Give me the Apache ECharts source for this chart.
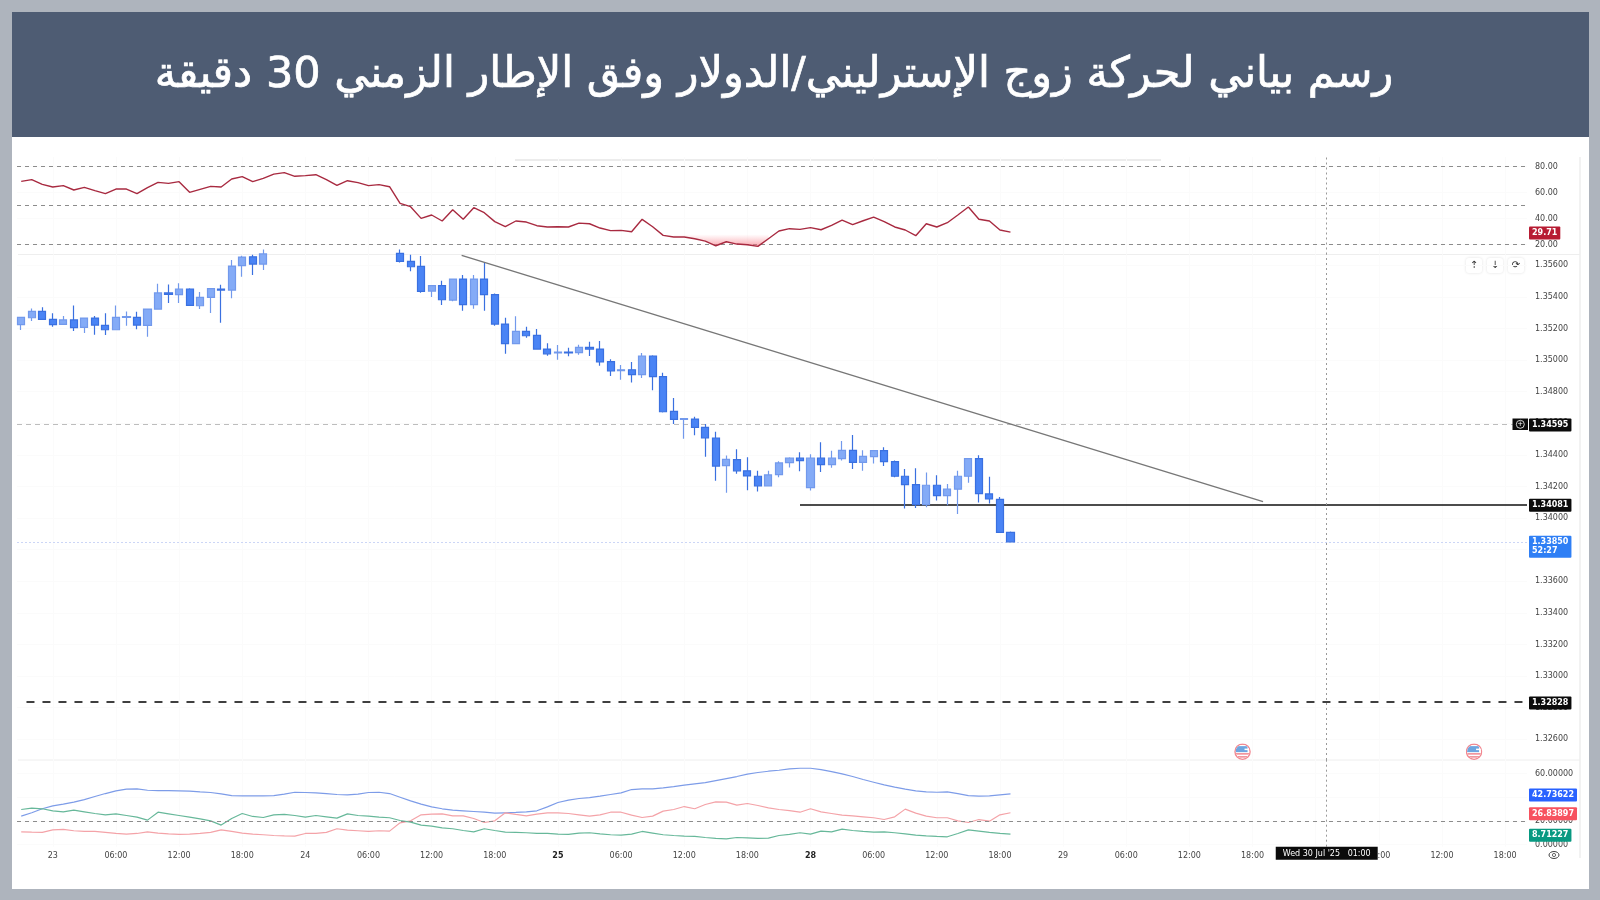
<!DOCTYPE html>
<html>
<head>
<meta charset="utf-8">
<title>GBP/USD</title>
<script src="https://cdn.jsdelivr.net/npm/echarts@6/dist/echarts.min.js"></script>
<style>
  html, body { margin: 0; padding: 0; background: #aeb4bd; }
  #chart { width: 1600px; height: 900px; }
</style>
</head>
<body>
<div id="chart"></div>
<script>
const titleText = 'رسم بياني لحركة زوج الإسترليني/الدولار وفق الإطار الزمني 30 دقيقة';

// hourly candles, bars 24-35 sit above the visible price range so they stay null
const opens = [
  1.35224, 1.35268, 1.35308, 1.35258, 1.35226, 1.35254, 1.35207, 1.35266, 1.35220, 1.35192,
  1.35270, 1.35270, 1.35220, 1.35323, 1.35425, 1.35414, 1.35450, 1.35344, 1.35397, 1.35450,
  1.35443, 1.35598, 1.35654, 1.35608, null, null, null, null, null, null,
  null, null, null, null, null, null, 1.35675, 1.35625, 1.35593, 1.35437,
  1.35471, 1.35380, 1.35513, 1.35351, 1.35513, 1.35414, 1.35228, 1.35104, 1.35182, 1.35157,
  1.35070, 1.35045, 1.35051, 1.35047, 1.35081, 1.35070, 1.34990, 1.34933, 1.34939, 1.34908,
  1.35026, 1.34895, 1.34675, 1.34625, 1.34627, 1.34574, 1.34507, 1.34332, 1.34370, 1.34299,
  1.34265, 1.34204, 1.34275, 1.34351, 1.34379, 1.34193, 1.34379, 1.34339, 1.34377, 1.34429,
  1.34353, 1.34389, 1.34427, 1.34358, 1.34265, 1.34212, 1.34085, 1.34208, 1.34142, 1.34183,
  1.34265, 1.34377, 1.34153, 1.34119, 1.33910
];
const closes = [
  1.35270, 1.35308, 1.35258, 1.35224, 1.35254, 1.35205, 1.35266, 1.35222, 1.35192, 1.35270,
  1.35275, 1.35222, 1.35323, 1.35425, 1.35416, 1.35450, 1.35346, 1.35397, 1.35452, 1.35443,
  1.35595, 1.35652, 1.35608, 1.35672, null, null, null, null, null, null,
  null, null, null, null, null, null, 1.35625, 1.35591, 1.35435, 1.35471,
  1.35382, 1.35513, 1.35351, 1.35513, 1.35414, 1.35228, 1.35104, 1.35182, 1.35154, 1.35070,
  1.35040, 1.35051, 1.35045, 1.35081, 1.35070, 1.34988, 1.34931, 1.34939, 1.34908, 1.35026,
  1.34895, 1.34673, 1.34625, 1.34629, 1.34574, 1.34507, 1.34329, 1.34372, 1.34299, 1.34267,
  1.34204, 1.34273, 1.34349, 1.34379, 1.34364, 1.34379, 1.34339, 1.34379, 1.34429, 1.34353,
  1.34391, 1.34427, 1.34358, 1.34265, 1.34212, 1.34085, 1.34208, 1.34142, 1.34183, 1.34265,
  1.34377, 1.34155, 1.34121, 1.33910, 1.33850
];
const lows = [
  1.35190, 1.35247, 1.35256, 1.35211, 1.35224, 1.35184, 1.35171, 1.35161, 1.35159, 1.35190,
  1.35218, 1.35195, 1.35148, 1.35321, 1.35361, 1.35361, 1.35344, 1.35323, 1.35298, 1.35237,
  1.35391, 1.35528, 1.35538, 1.35570, null, null, null, null, null, null,
  null, null, null, null, null, null, 1.35617, 1.35562, 1.35427, 1.35399,
  1.35349, 1.35372, 1.35313, 1.35325, 1.35313, 1.35218, 1.35040, 1.35102, 1.35142, 1.35068,
  1.35028, 1.35003, 1.35024, 1.35034, 1.35026, 1.34965, 1.34899, 1.34876, 1.34859, 1.34886,
  1.34810, 1.34669, 1.34595, 1.34502, 1.34524, 1.34388, 1.34237, 1.34161, 1.34280, 1.34176,
  1.34168, 1.34202, 1.34258, 1.34320, 1.34296, 1.34174, 1.34292, 1.34318, 1.34364, 1.34311,
  1.34299, 1.34345, 1.34330, 1.34258, 1.34060, 1.34064, 1.34069, 1.34111, 1.34081, 1.34026,
  1.34223, 1.34098, 1.34092, 1.33908, 1.33849
];
const highs = [
  1.35275, 1.35327, 1.35334, 1.35296, 1.35279, 1.35346, 1.35268, 1.35279, 1.35296, 1.35346,
  1.35308, 1.35306, 1.35325, 1.35484, 1.35479, 1.35486, 1.35454, 1.35431, 1.35454, 1.35477,
  1.35633, 1.35661, 1.35667, 1.35700, null, null, null, null, null, null,
  null, null, null, null, null, null, 1.35700, 1.35667, 1.35659, 1.35473,
  1.35503, 1.35515, 1.35538, 1.35538, 1.35617, 1.35422, 1.35268, 1.35277, 1.35211, 1.35197,
  1.35106, 1.35095, 1.35078, 1.35097, 1.35116, 1.35121, 1.35005, 1.34969, 1.34988, 1.35045,
  1.35030, 1.34920, 1.34760, 1.34631, 1.34642, 1.34595, 1.34547, 1.34396, 1.34436, 1.34385,
  1.34299, 1.34299, 1.34360, 1.34385, 1.34417, 1.34404, 1.34480, 1.34427, 1.34488, 1.34526,
  1.34429, 1.34429, 1.34448, 1.34364, 1.34311, 1.34315, 1.34288, 1.34271, 1.34216, 1.34299,
  1.34381, 1.34398, 1.34261, 1.34134, 1.33915
];

const rsi = [
  68.6, 69.9, 66.3, 64.3, 65.3, 62.0, 64.0, 61.5, 59.2, 62.7,
  62.7, 59.2, 63.8, 67.8, 67.1, 68.4, 60.2, 62.5, 64.8, 64.3,
  70.4, 72.2, 68.4, 70.9, 74.2, 75.3, 72.5, 73.0, 73.7, 69.9,
  65.5, 69.1, 67.6, 65.3, 66.1, 64.5, 51.7, 49.2, 40.2, 42.8,
  38.2, 46.9, 39.5, 48.4, 44.6, 37.7, 33.8, 38.2, 37.4, 34.6,
  33.6, 33.8, 33.6, 36.6, 36.1, 32.8, 30.8, 31.0, 30.0, 39.5,
  33.8, 27.2, 25.9, 25.9, 24.6, 22.8, 19.2, 22.3, 20.5, 20.0,
  18.7, 24.6, 30.5, 32.3, 31.8, 33.1, 31.5, 34.9, 38.9, 35.4,
  38.4, 41.2, 37.7, 33.6, 31.3, 26.9, 36.1, 33.6, 36.9, 42.8,
  48.9, 39.5, 38.2, 31.3, 29.71
];
const adxBlue = [
  24.0, 26.8, 30.2, 32.7, 34.1, 35.8, 38.0, 40.6, 43.1, 45.4,
  46.8, 47.1, 45.9, 45.6, 45.6, 45.4, 45.1, 44.5, 44.0, 42.8,
  41.4, 41.1, 41.1, 41.1, 41.4, 42.6, 44.2, 44.0, 43.7, 43.1,
  42.3, 42.0, 42.6, 44.0, 44.2, 43.1, 40.0, 36.9, 34.1, 31.8,
  30.2, 29.0, 28.5, 27.9, 27.3, 26.5, 26.8, 27.1, 27.6, 28.5,
  31.8, 35.5, 37.5, 38.9, 39.7, 40.9, 42.3, 43.7, 46.5, 47.1,
  47.1, 47.9, 49.0, 50.2, 51.3, 52.4, 54.1, 55.8, 57.5, 59.5,
  60.9, 62.0, 62.8, 64.0, 64.5, 64.5, 63.4, 61.7, 59.7, 57.5,
  55.0, 52.7, 50.4, 48.5, 46.8, 45.4, 44.5, 44.2, 44.5, 43.1,
  41.4, 40.9, 41.1, 42.0, 42.74
];
const diRed = [
  10.7, 10.4, 10.2, 12.4, 12.7, 11.6, 11.0, 11.0, 10.2, 9.3,
  8.7, 9.3, 10.7, 9.6, 9.0, 8.5, 8.7, 9.3, 10.2, 12.4,
  11.0, 9.6, 8.7, 8.2, 7.6, 7.3, 7.1, 9.3, 9.3, 10.2,
  13.3, 12.1, 11.6, 11.0, 11.6, 11.3, 18.3, 20.0, 25.1, 25.6,
  25.9, 24.2, 24.2, 22.0, 18.6, 20.0, 26.8, 25.4, 24.2, 25.6,
  26.8, 26.8, 26.2, 25.1, 24.0, 25.1, 27.3, 27.3, 24.8, 22.8,
  24.0, 28.2, 29.6, 32.1, 30.2, 33.8, 36.1, 35.8, 33.3, 34.7,
  33.0, 31.0, 29.6, 28.7, 27.3, 30.2, 27.6, 26.2, 24.8, 24.2,
  23.4, 22.6, 21.1, 23.4, 29.9, 26.5, 24.0, 22.6, 22.6, 20.0,
  18.6, 21.1, 19.7, 25.1, 26.84
];
const diGreen = [
  29.6, 30.7, 30.2, 28.5, 27.6, 29.0, 27.6, 26.2, 25.1, 25.9,
  24.5, 23.1, 20.6, 27.3, 25.9, 24.5, 23.1, 21.7, 20.0, 16.4,
  22.0, 26.2, 23.7, 22.8, 25.1, 25.4, 24.5, 23.1, 24.5, 23.4,
  22.3, 25.9, 24.5, 24.0, 23.1, 22.6, 20.3, 18.9, 16.4, 15.5,
  14.1, 13.3, 11.8, 10.7, 13.3, 11.8, 10.4, 10.2, 9.9, 9.3,
  9.3, 8.7, 8.5, 9.6, 9.9, 9.0, 8.2, 7.9, 8.7, 11.0,
  9.6, 8.2, 7.6, 7.1, 6.8, 5.9, 5.1, 4.8, 5.9, 5.6,
  5.1, 5.4, 7.6, 8.5, 9.9, 8.7, 11.3, 10.7, 13.0, 11.8,
  11.0, 10.4, 10.7, 9.9, 9.0, 7.9, 7.3, 6.8, 6.5, 9.3,
  12.4, 11.3, 10.2, 9.3, 8.71
];

const xTickIndex = [3, 9, 15, 21, 27, 33, 39, 45, 51, 57, 63, 69, 75, 81, 87, 93, 99, 105, 111, 117, 123, 129, 135, 141];
const xTickLabels = ['23', '06:00', '12:00', '18:00', '24', '06:00', '12:00', '18:00', '25', '06:00', '12:00', '18:00',
  '28', '06:00', '12:00', '18:00', '29', '06:00', '12:00', '18:00', '30', '06:00', '12:00', '18:00'];
const boldDays = ['25', '28'];
const rsiTicks = [20, 40, 60, 80];
const priceTicks = [1.326, 1.328, 1.33, 1.332, 1.334, 1.336, 1.338, 1.34, 1.342, 1.344, 1.346, 1.348, 1.35, 1.352, 1.354, 1.356];
const oscTicks = [0, 20, 40, 60];

const eventIndex = [116.05, 138.05];
const eventPrice = [1.32522, 1.32522];
const crossIndex = 124.05;
const trendStart = [41.85, 1.35663];
const trendEnd = [118, 1.34104];

const X_MIN = -0.4, X_MAX = 143.08;
const FONT = 'DejaVu Sans';

const chart = echarts.init(document.getElementById('chart'));

const xAxisFor = function (gridIndex, withLabels) {
  return {
    type: 'value', gridIndex: gridIndex, min: X_MIN, max: X_MAX,
    axisLine: { show: false },
    axisTick: { show: false, customValues: xTickIndex },
    splitLine: { show: true, lineStyle: { color: '#fbfbfb', width: 1 } },
    axisLabel: {
      show: withLabels, customValues: xTickIndex, margin: 5, color: '#444', fontSize: 8, fontFamily: FONT,
      formatter: function (v) {
        const text = xTickLabels[xTickIndex.indexOf(v)];
        return boldDays.includes(text) ? '{d|' + text + '}' : text;
      },
      rich: { d: { fontWeight: 'bold', color: '#222', fontSize: 8, fontFamily: FONT } }
    }
  };
};

const yAxisFor = function (gridIndex, min, max, ticks, digits) {
  return {
    type: 'value', gridIndex: gridIndex, position: 'right', min: min, max: max, scale: true,
    axisLine: { show: false },
    axisTick: { show: false, customValues: ticks },
    splitLine: { show: true, lineStyle: { color: '#fbfbfb', width: 1 } },
    axisLabel: {
      customValues: ticks, margin: 8, color: '#444', fontSize: 8, fontFamily: FONT, padding: [3, 0, 0, 0],
      formatter: function (v) { return v.toFixed(digits); }
    }
  };
};

// horizontal line, from xFrom to the right edge of the pane
const hLine = function (value, style, xFrom) {
  return [
    { xAxis: xFrom === undefined ? X_MIN : xFrom, yAxis: value, lineStyle: style },
    { xAxis: X_MAX, yAxis: value }
  ];
};

// price tag right of the pane, hung on a line end
const tagLabel = function (text, bg, extra) {
  return Object.assign({
    show: true, position: 'end', distance: 2, formatter: text, backgroundColor: bg, color: '#fff', offset: [0, 1],
    fontFamily: FONT, fontSize: 8, fontWeight: 'bold', padding: [2, 3], lineHeight: 9, borderRadius: 1, opacity: 1
  }, extra || {});
};

const tagOnly = function (value, text, bg) {
  return [
    { xAxis: X_MAX - 1, yAxis: value, lineStyle: { color: 'rgba(0,0,0,0)' }, label: tagLabel(text, bg) },
    { xAxis: X_MAX, yAxis: value }
  ];
};

const markLines = function (data, z) {
  return { silent: true, symbol: 'none', animation: false, z: z, label: { show: false }, data: data };
};

const crossStyle = { color: '#999', type: [2, 3], width: 1 };
const greyDash = { color: '#8c8c8c', type: [4, 4], width: 1 };

const mainLine = hLine(1.34087, { color: '#111', type: 'solid', width: 1.6 }, 74);
mainLine[0].label = tagLabel('1.34081', '#0b0b0b');
const levelLine = hLine(1.32836, { color: '#111', type: [8, 8], width: 1.6 }, 0.5);
levelLine[0].label = tagLabel('1.32828', '#0b0b0b');
const swingLine = hLine(1.34595, { color: '#bdbdbd', type: [5, 4], width: 1 });
swingLine[0].label = tagLabel('1.34595', '#0b0b0b');
const lastLine = hLine(1.3385, { color: '#ccd6f6', type: [2, 2], width: 1 });
lastLine[0].label = tagLabel('1.33850\n52:27', '#2f7ff5', { offset: [0, 5] });

const candleData = opens
  .map(function (o, i) { return [i, o, closes[i], lows[i], highs[i]]; })
  .filter(function (d) { return d[1] !== null; });

const toXY = function (arr) { return arr.map(function (v, i) { return [i, v]; }); };

const oscLine = function (name, arr, color) {
  return {
    name: name, type: 'line', xAxisIndex: 2, yAxisIndex: 2, data: toXY(arr), showSymbol: false, silent: true,
    lineStyle: { color: color, width: 1.2 }, animation: false, z: 3
  };
};

const flagSvg = '<svg xmlns="http://www.w3.org/2000/svg" width="34" height="34" viewBox="0 0 34 34">'
  + '<clipPath id="c"><circle cx="17" cy="17" r="14"/></clipPath>'
  + '<circle cx="17" cy="17" r="15" fill="#fff" stroke="#ee6a75" stroke-width="3"/>'
  + '<g clip-path="url(#c)"><rect x="3" y="3" width="28" height="28" fill="#fff"/>'
  + '<rect x="3" y="20" width="28" height="3" fill="#ee6a75"/><rect x="3" y="26" width="28" height="3" fill="#ee6a75"/>'
  + '<rect x="3" y="6" width="24" height="12" fill="#4a90d9"/><rect x="21" y="11" width="10" height="3" fill="#fff"/></g></svg>';

const btn = function (cx, glyph) {
  return {
    type: 'group', silent: true, children: [
      { type: 'rect', shape: { x: cx - 8, y: 258, width: 16, height: 15, r: 3 },
        style: { fill: '#fff', shadowBlur: 3, shadowColor: 'rgba(0,0,0,0.12)' } },
      { type: 'text', style: { x: cx, y: 265.5, text: glyph, align: 'center', verticalAlign: 'middle', fill: '#333', font: '10px "DejaVu Sans"' } }
    ]
  };
};

chart.setOption({
  animation: false,
  backgroundColor: '#aeb4bd',
  title: {
    text: titleText, left: 769, top: 49, textAlign: 'center',
    textStyle: { color: '#fff', fontFamily: FONT, fontSize: 43, fontWeight: 'normal', textBorderColor: '#fff', textBorderWidth: 0.7 }
  },
  grid: [
    { left: 17, top: 157, width: 1510, height: 97.5 },
    { left: 17, top: 254.5, width: 1510, height: 505.5 },
    { left: 17, top: 760, width: 1510, height: 86.7 }
  ],
  xAxis: [xAxisFor(0, false), xAxisFor(1, false), xAxisFor(2, true)],
  yAxis: [
    yAxisFor(0, 12.5, 87.3, rsiTicks, 2),
    yAxisFor(1, 1.32469, 1.356684, priceTicks, 5),
    yAxisFor(2, -1.9, 71.5, oscTicks, 5)
  ],
  graphic: {
    elements: [
      { type: 'rect', z: -10, silent: true, shape: { x: 12, y: 137, width: 1577, height: 752 }, style: { fill: '#fff' } },
      { type: 'rect', z: -9, silent: true, shape: { x: 12, y: 12, width: 1577, height: 125 }, style: { fill: '#4e5c73' } },
      // pane dividers and the right edge of the chart widget
      { type: 'line', z: -8, silent: true, shape: { x1: 18, y1: 254.5, x2: 1580, y2: 254.5 }, style: { stroke: '#eeeeee', lineWidth: 1 } },
      { type: 'line', z: -8, silent: true, shape: { x1: 18, y1: 760, x2: 1580, y2: 760 }, style: { stroke: '#eeeeee', lineWidth: 1 } },
      { type: 'line', z: -8, silent: true, shape: { x1: 1580, y1: 157, x2: 1580, y2: 858 }, style: { stroke: '#eeeeee', lineWidth: 1.5 } },
      { type: 'line', z: -8, silent: true, shape: { x1: 515, y1: 160, x2: 1161, y2: 160 }, style: { stroke: '#e6e6e6', lineWidth: 1.5 } },
      btn(1474, '↑'), btn(1495, '↓'), btn(1516, '⟳'),
      // plus icon next to the 1.34595 tag
      { type: 'rect', z: 20, silent: true, shape: { x: 1512.5, y: 418.5, width: 15.5, height: 11.5 }, style: { fill: '#0b0b0b' } },
      { type: 'circle', z: 21, silent: true, shape: { cx: 1520.3, cy: 424.3, r: 4 }, style: { fill: 'none', stroke: '#fff', lineWidth: 0.8 } },
      { type: 'text', z: 21, silent: true, style: { x: 1520.3, y: 424.3, text: '+', align: 'center', verticalAlign: 'middle', fill: '#fff', font: '7px "DejaVu Sans"' } },
      // eye icon in the corner of the time axis
      { type: 'ellipse', silent: true, shape: { cx: 1554, cy: 855, rx: 5, ry: 3.5 }, style: { fill: 'none', stroke: '#444', lineWidth: 1 } },
      { type: 'circle', silent: true, shape: { cx: 1554, cy: 855, r: 1.6 }, style: { fill: 'none', stroke: '#444', lineWidth: 0.8 } }
    ]
  },
  series: [
    {
      name: 'RSI', type: 'line', xAxisIndex: 0, yAxisIndex: 0, data: toXY(rsi), showSymbol: false, silent: true,
      lineStyle: { color: '#a82a40', width: 1.4 }, z: 3,
      markLine: markLines([
        hLine(80, greyDash), hLine(50, greyDash), hLine(20, greyDash),
        tagOnly(29.71, '29.71', '#b71c33'),
        [{ xAxis: crossIndex, yAxis: 12.5, lineStyle: crossStyle }, { xAxis: crossIndex, yAxis: 87.3 }]
      ], 1)
    },
    {
      // oversold shading between the RSI line and a fixed level
      name: 'RSI oversold', type: 'line', xAxisIndex: 0, yAxisIndex: 0, silent: true, showSymbol: false,
      data: toXY(rsi).slice(62, 72), lineStyle: { opacity: 0 }, z: 2,
      areaStyle: {
        origin: 28, opacity: 1,
        color: { type: 'linear', x: 0, y: 0, x2: 0, y2: 1, colorStops: [
          { offset: 0, color: 'rgba(250,130,140,0)' }, { offset: 1, color: 'rgba(245,105,120,0.6)' }
        ] }
      }
    },
    {
      name: 'GBPUSD', type: 'candlestick', xAxisIndex: 1, yAxisIndex: 1, data: candleData, silent: true,
      encode: { x: 0, y: [1, 2, 3, 4] }, barWidth: 7.6, z: 3, clip: true,
      itemStyle: { color: '#84abf7', color0: '#4a84f5', borderColor: '#7299ec', borderColor0: '#3a70e0', borderWidth: 1.2 }
    },
    {
      name: 'levels', type: 'line', xAxisIndex: 1, yAxisIndex: 1, data: [], silent: true, z: 1,
      markLine: markLines([
        swingLine, mainLine, lastLine, levelLine,
        [{ xAxis: crossIndex, yAxis: 1.32469, lineStyle: crossStyle }, { xAxis: crossIndex, yAxis: 1.356684 }]
      ], 1)
    },
    {
      name: 'trend', type: 'line', xAxisIndex: 1, yAxisIndex: 1, data: [], silent: true, z: 4,
      markLine: markLines([
        [{ xAxis: trendStart[0], yAxis: trendStart[1], lineStyle: { color: '#777', type: 'solid', width: 1.4 } },
         { xAxis: trendEnd[0], yAxis: trendEnd[1] }]
      ], 4)
    },
    {
      name: 'events', type: 'scatter', xAxisIndex: 1, yAxisIndex: 1, silent: true, z: 4, symbolSize: 17,
      symbol: 'image://data:image/svg+xml;charset=utf-8,' + encodeURIComponent(flagSvg),
      data: eventIndex.map(function (x, i) { return [x, eventPrice[i]]; })
    },
    oscLine('ADX', adxBlue, '#7d9ce8'),
    oscLine('DI-', diRed, '#f4a3a8'),
    oscLine('DI+', diGreen, '#67b89a'),
    {
      name: 'osc levels', type: 'line', xAxisIndex: 2, yAxisIndex: 2, data: [], silent: true, z: 1,
      markLine: markLines([
        hLine(20, greyDash),
        tagOnly(42.73622, '42.73622', '#2962ff'),
        tagOnly(26.83897, '26.83897', '#f7525f'),
        tagOnly(8.71227, '8.71227', '#089981'),
        { xAxis: crossIndex, lineStyle: crossStyle, label: {
          show: true, position: 'start', distance: 0, formatter: "Wed 30 Jul '25   01:00", backgroundColor: '#0b0b0b',
          color: '#fff', fontFamily: FONT, fontSize: 8, padding: [3, 7, 2, 7]
        } }
      ], 6)
    }
  ]
});
</script>
</body>
</html>
